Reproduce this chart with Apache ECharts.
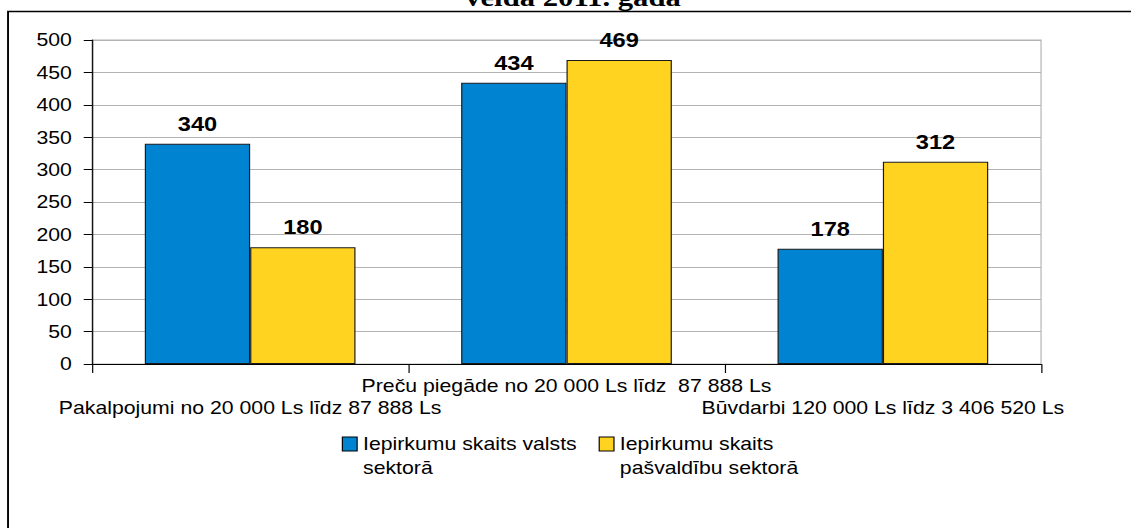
<!DOCTYPE html>
<html>
<head>
<meta charset="utf-8">
<script src="https://cdn.jsdelivr.net/npm/echarts@6/dist/echarts.min.js"></script>
<style>
html,body{margin:0;padding:0;background:#fff;overflow:hidden;width:1131px;height:528px;}
#wrap{width:1131px;height:528px;overflow:hidden;position:relative;}
#chart{width:958px;height:528px;transform:scaleX(1.1806);transform-origin:0 0;position:absolute;left:0;top:0;}
</style>
</head>
<body>
<div id="wrap"><div id="chart"></div></div>
<script>
// ---- data ----
var titleText = 'veida 2011. gada';
var categories = [
  'Pakalpojumi no 20 000 Ls līdz 87 888 Ls',
  'Preču piegāde no 20 000 Ls līdz  87 888 Ls',
  'Būvdarbi 120 000 Ls līdz 3 406 520 Ls'
];
var seriesNames = [
  'Iepirkumu skaits valsts sektorā',
  'Iepirkumu skaits pašvaldību sektorā'
];
var legendLabels = [
  'Iepirkumu skaits valsts\nsektorā',
  'Iepirkumu skaits\npašvaldību sektorā'
];
var valstsValues = [340, 434, 178];
var pasvaldibuValues = [180, 469, 312];
var yTicks = [0, 50, 100, 150, 200, 250, 300, 350, 400, 450, 500];

// ---- chart ----
var FONT = '"Liberation Sans", Arial, sans-serif';
var chart = echarts.init(document.getElementById('chart'), null, {renderer: 'svg'});
var option = {
  animation: false,
  backgroundColor: '#fff',
  title: {
    text: titleText,
    left: 394,
    top: -16,
    padding: 0,
    textStyle: {fontFamily: '"Liberation Serif", "Times New Roman", serif', fontWeight: 'bold', fontSize: 26, color: '#000'}
  },
  graphic: [{
    type: 'rect',
    shape: {x: 6.8, y: 11.5, width: 1400, height: 1000},
    style: {fill: 'none', stroke: '#000', lineWidth: 1.6},
    silent: true,
    z: 100
  }],
  grid: {
    left: 77.9, right: 76.2, top: 40, bottom: 164,
    show: true, borderColor: '#b3b3b3', borderWidth: 1, backgroundColor: 'transparent',
    containLabel: false
  },
  legend: {
    data: seriesNames,
    left: 289.5,
    top: 408,
    padding: 0,
    icon: 'rect',
    itemWidth: 12.5,
    itemHeight: 14,
    itemGap: 18.5,
    itemStyle: {borderColor: '#000', borderWidth: 1},
    textStyle: {fontFamily: FONT, fontSize: 18, lineHeight: 24, color: '#000'},
    formatter: function (name) {
      return '\n' + legendLabels[seriesNames.indexOf(name)];
    }
  },
  xAxis: {
    type: 'category',
    data: categories,
    axisLine: {lineStyle: {color: '#000', width: 1}},
    axisTick: {show: true, length: 9, lineStyle: {color: '#000'}},
    axisLabel: {
      interval: 0,
      margin: 11,
      fontFamily: FONT, fontSize: 18, lineHeight: 22, color: '#000',
      formatter: function (v, i) { return i % 2 === 1 ? v : '\n' + v; }
    },
    splitLine: {show: false}
  },
  yAxis: {
    type: 'value',
    min: yTicks[0], max: yTicks[yTicks.length - 1], interval: 50,
    axisLine: {show: true, lineStyle: {color: '#000', width: 1}},
    axisTick: {show: true, length: 7, lineStyle: {color: '#000'}},
    axisLabel: {margin: 17, fontFamily: FONT, fontSize: 18, color: '#000'},
    splitLine: {show: true, lineStyle: {color: '#b3b3b3', width: 1}}
  },
  series: [
    {
      name: seriesNames[0], type: 'bar', data: valstsValues,
      barGap: '0%', barCategoryGap: '33.4%',
      itemStyle: {color: '#0084d1', borderColor: '#1a1a1a', borderWidth: 1},
      label: {show: true, position: 'top', distance: 10, fontFamily: FONT, fontWeight: 'bold', fontSize: 20, color: '#000'}
    },
    {
      name: seriesNames[1], type: 'bar', data: pasvaldibuValues,
      barGap: '0%', barCategoryGap: '33.4%',
      itemStyle: {color: '#ffd320', borderColor: '#1a1a1a', borderWidth: 1},
      label: {show: true, position: 'top', distance: 10, fontFamily: FONT, fontWeight: 'bold', fontSize: 20, color: '#000'}
    }
  ]
};
chart.setOption(option);
</script>
</body>
</html>
